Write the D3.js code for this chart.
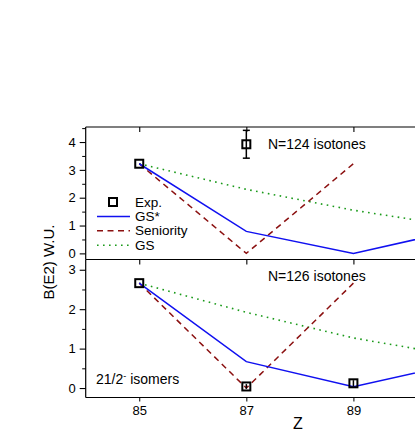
<!DOCTYPE html>
<html>
<head>
<meta charset="utf-8">
<script src="https://cdn.jsdelivr.net/npm/d3@7"></script>
<style>
  body { margin: 0; background: #fff; }
  svg { display: block; font-family: "Liberation Sans", Arial, sans-serif; }
</style>
</head>
<body>
<div id="chart"></div>
<script>
// donnees
const zTicks = [85, 87, 89, 91];
const zLabels = [85, 87, 89];
const zModel = [85, 87, 89, 91];
const zSeniority = [85, 87, 89];

// N=124
const expZ124 = [85, 87];
const expVal124 = [3.22, 3.92];
const expErr124 = [0, 0.5];
const gsStar124 = [3.22, 0.79, 0.0, 0.86];
const seniority124 = [3.22, 0.0, 3.22];
const gs124 = [3.22, 2.3, 1.55, 0.95];

// N=126
const expZ126 = [85, 87, 89];
const expVal126 = [2.66, 0.04, 0.12];
const expErr126 = [0, 0.06, 0.08];
const gsStar126 = [2.66, 0.67, 0.03, 0.64];
const seniority126 = [2.66, 0.0, 2.66];
const gs126 = [2.66, 1.92, 1.27, 0.8];

const yTicks124 = [0, 1, 2, 3, 4];
const yTicks126 = [0, 1, 2, 3];
const legendNames = ["Exp.", "GS*", "Seniority", "GS"];

const W = 415, H = 436;
const left = 85.7, right = 460.5;
const colors = { gsStar: "#1010f0", sen: "#8b1010", gs: "#1a9a1a" };

const svg = d3.select("#chart").append("svg")
    .attr("width", W).attr("height", H);

const x = d3.scaleLinear().domain([84, 91]).range([left, right]);

// un panneau = un groupe d'isotones
function panel(opt) {
    const y = d3.scaleLinear().domain(opt.domain).range([opt.bottom, opt.top]);
    const g = svg.append("g");

    // cadre
    g.append("line").attr("x1", left).attr("x2", right)
        .attr("y1", opt.top).attr("y2", opt.top).attr("stroke", "#000").attr("stroke-width", 1.2);
    g.append("line").attr("x1", left).attr("x2", left)
        .attr("y1", opt.top).attr("y2", opt.bottom).attr("stroke", "#000").attr("stroke-width", 1.2);

    // axe Y
    const minor = d3.range(0, opt.domain[1], 0.5).filter(d => d % 1 !== 0);
    g.append("g").attr("transform", `translate(${left},0)`)
        .call(d3.axisLeft(y).tickValues(minor).tickSize(3.5).tickFormat(""))
        .call(a => a.select(".domain").remove());
    const ay = g.append("g").attr("transform", `translate(${left},0)`)
        .call(d3.axisLeft(y).tickValues(opt.yTicks).tickSize(6).tickPadding(4).tickFormat(d3.format("d")));
    ay.select(".domain").remove();
    ay.selectAll("text").style("font-size", "13px").attr("fill", "#000");
    ay.selectAll("line").attr("stroke-width", 1.1);

    // ticks X vers l'interieur en haut
    g.append("g").attr("transform", `translate(0,${opt.top})`)
        .call(d3.axisBottom(x).tickValues(zTicks).tickSize(5).tickFormat(""))
        .call(a => a.select(".domain").remove())
        .selectAll("line").attr("stroke-width", 1.1);

    const line = d3.line().x(d => x(d[0])).y(d => y(d[1]));

    g.append("path").datum(d3.zip(zModel, opt.gs))
        .attr("d", line).attr("fill", "none").attr("stroke", colors.gs)
        .attr("stroke-width", 1.6).attr("stroke-dasharray", "1.6,4.4");
    g.append("path").datum(d3.zip(zSeniority, opt.sen))
        .attr("d", line).attr("fill", "none").attr("stroke", colors.sen)
        .attr("stroke-width", 1.5).attr("stroke-dasharray", "6,4.5");
    g.append("path").datum(d3.zip(zModel, opt.gsStar))
        .attr("d", line).attr("fill", "none").attr("stroke", colors.gsStar)
        .attr("stroke-width", 1.5);

    // points experimentaux
    const exp = d3.zip(opt.expZ, opt.expVal, opt.expErr);
    const pts = g.selectAll(".exp").data(exp).enter().append("g");
    pts.filter(d => d[2] > 0).append("line")
        .attr("x1", d => x(d[0])).attr("x2", d => x(d[0]))
        .attr("y1", d => y(d[1] + d[2])).attr("y2", d => y(d[1] - d[2]))
        .attr("stroke", "#000").attr("stroke-width", 1.5);
    pts.filter(d => d[2] > 0.2).selectAll(".cap").data(d => [[d[0], d[1] + d[2]], [d[0], d[1] - d[2]]])
        .enter().append("line")
        .attr("x1", d => x(d[0]) - 3.5).attr("x2", d => x(d[0]) + 3.5)
        .attr("y1", d => y(d[1])).attr("y2", d => y(d[1]))
        .attr("stroke", "#000").attr("stroke-width", 1.5);
    pts.append("rect")
        .attr("x", d => x(d[0]) - 4).attr("y", d => y(d[1]) - 4)
        .attr("width", 8).attr("height", 8)
        .attr("fill", "none").attr("stroke", "#000").attr("stroke-width", 2);

    g.append("text").attr("x", 268).attr("y", opt.labelY)
        .style("font-size", "14px").text(opt.label);

    return { y: y, g: g };
}

const panelHaut = panel({
    top: 127, bottom: 259.5, domain: [-0.22, 4.54], yTicks: yTicks124,
    expZ: expZ124, expVal: expVal124, expErr: expErr124,
    gsStar: gsStar124, sen: seniority124, gs: gs124,
    label: "N=124 isotones", labelY: 149
});
const panelBas = panel({
    top: 259.5, bottom: 397.5, domain: [-0.24, 3.26], yTicks: yTicks126,
    expZ: expZ126, expVal: expVal126, expErr: expErr126,
    gsStar: gsStar126, sen: seniority126, gs: gs126,
    label: "N=126 isotones", labelY: 281
});

// axe X du bas
const ax = svg.append("g").attr("transform", "translate(0,397.5)")
    .call(d3.axisBottom(x).tickValues(zLabels).tickSize(4).tickPadding(4).tickFormat(d3.format("d")));
ax.select(".domain").attr("d", `M${left},0H${right}`).attr("stroke-width", 1.2);
ax.selectAll("text").style("font-size", "13px").attr("fill", "#000");

svg.append("text").attr("x", 298).attr("y", 429).attr("text-anchor", "middle")
    .style("font-size", "16px").text("Z");
svg.append("text").attr("transform", "translate(54,262) rotate(-90)")
    .attr("text-anchor", "middle").style("font-size", "15px").text("B(E2) W.U.");

// 21/2- isomers
const iso = svg.append("text").attr("x", 96).attr("y", 384).style("font-size", "14px");
iso.append("tspan").text("21/2");
iso.append("tspan").attr("dy", -5).style("font-size", "9px").text("-");
iso.append("tspan").attr("dy", 5).text(" isomers");

// legende
const leg = svg.append("g").attr("transform", "translate(96,202)");
const rows = leg.selectAll("g").data(legendNames).enter().append("g")
    .attr("transform", (d, i) => `translate(0,${i * 14.4})`);
rows.append("text").attr("x", 39).attr("y", 4.5).style("font-size", "13.5px").text(d => d);
leg.append("rect").attr("x", 13).attr("y", -4).attr("width", 8).attr("height", 8)
    .attr("fill", "none").attr("stroke", "#000").attr("stroke-width", 2);
const styles = [null, [colors.gsStar, null], [colors.sen, "6,4.5"], [colors.gs, "1.6,4.4"]];
styles.forEach((s, i) => {
    if (!s) return;
    leg.append("line").attr("x1", 1).attr("x2", 34).attr("y1", i * 14.4).attr("y2", i * 14.4)
        .attr("stroke", s[0]).attr("stroke-width", 1.5).attr("stroke-dasharray", s[1]);
});
</script>
</body>
</html>
